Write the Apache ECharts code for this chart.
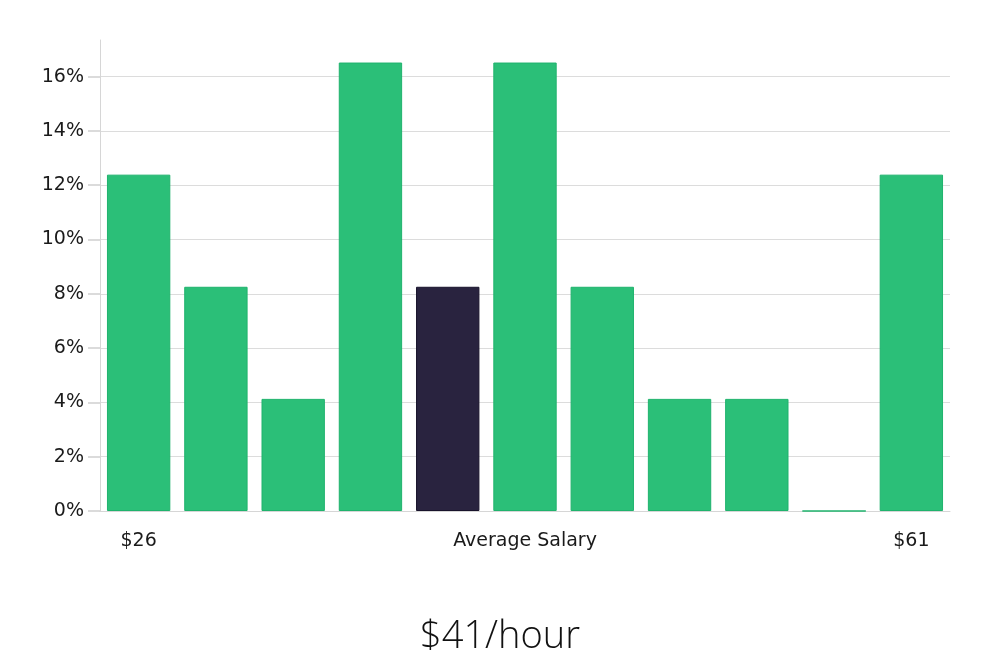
<!DOCTYPE html>
<html>
<head>
<meta charset="utf-8">
<script src="https://cdn.jsdelivr.net/npm/echarts@6/dist/echarts.min.js"></script>
<style>
  html, body { margin: 0; padding: 0; background: #fff; }
  #main { width: 1000px; height: 660px; }
</style>
</head>
<body>
<div id="main"></div>
<script>
  // salary buckets, labels only at the ends and under the middle
  var categories = ['$26', '', '', '', '', 'Average Salary', '', '', '', '', '$61'];
  var shares = [12.39, 8.26, 4.13, 16.52, 8.26, 16.52, 8.26, 4.13, 4.13, 0, 12.39];
  var highlightIndex = 4;
  var yTicks = [0, 2, 4, 6, 8, 10, 12, 14, 16];
  var caption = '$41/hour';

  var green = '#2bbf78', greenBorder = '#1fb36d';
  var dark = '#29233f', darkBorder = '#18132b';
  var labelFont = "'DejaVu Sans', sans-serif";

  var barData = [];
  for (var i = 0; i < shares.length; i++) {
    barData.push({
      value: shares[i],
      itemStyle: i == highlightIndex
        ? { color: dark, borderColor: darkBorder, borderWidth: 1 }
        : { color: green, borderColor: greenBorder, borderWidth: 1 }
    });
  }

  var chart = echarts.init(document.getElementById('main'));
  chart.setOption({
    animation: false,
    grid: { left: 100, right: 50, top: 40, bottom: 149, containLabel: false },
    title: {
      text: caption,
      left: 'center',
      top: 613,
      textStyle: { fontFamily: "'Open Sans', sans-serif", fontWeight: 300, fontSize: 38, color: '#111' }
    },
    xAxis: {
      type: 'category',
      data: categories,
      axisLine: { show: true, lineStyle: { color: '#d6d6d6' } },
      axisTick: { show: false },
      axisLabel: {
        interval: 0,
        margin: 21,
        color: '#1a1a1a',
        fontFamily: labelFont,
        fontSize: 19
      }
    },
    yAxis: {
      type: 'value',
      min: 0,
      max: 17.35,
      interval: 2,
      axisLine: { show: true, lineStyle: { color: '#d6d6d6' } },
      axisTick: { show: true, length: 12, lineStyle: { color: '#d0d0d0', width: 1.5 }, customValues: yTicks },
      axisLabel: {
        customValues: yTicks,
        margin: 16,
        color: '#1a1a1a',
        fontFamily: labelFont,
        fontSize: 19,
        formatter: '{value}%'
      },
      splitLine: { show: true, lineStyle: { color: '#dcdcdc' } }
    },
    series: [
      {
        type: 'bar',
        barCategoryGap: '18%',
        data: barData
      }
    ]
  });
</script>
</body>
</html>
